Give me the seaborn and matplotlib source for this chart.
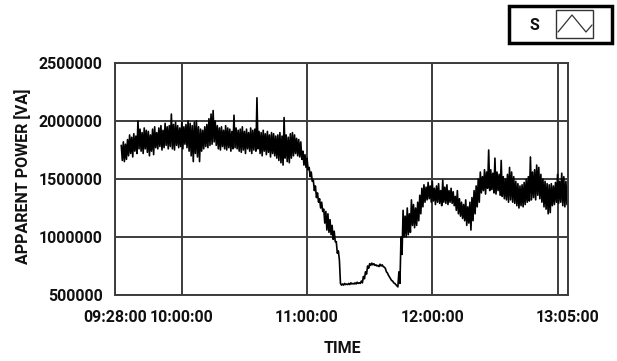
import numpy as np
import pandas as pd
import matplotlib
matplotlib.use("Agg")
import matplotlib.pyplot as plt
from matplotlib.patches import Rectangle
from matplotlib.lines import Line2D
import seaborn as sns

# Minutes after 09:28:00, one sample per minute
minutes = list(range(3, 217))

# Upper envelope of the apparent power per minute [kVA]
s_high = [
    1790, 1820, 1800, 1840, 1880, 1860, 1890, 1870, 2000, 1930,  # 3-12
    1900, 1940, 1920, 1910, 1880, 1930, 1950, 1900, 1940, 1960,  # 13-22
    1920, 1980, 1950, 1960, 2060, 1970, 1990, 1960, 1940, 1990,  # 23-32
    1950, 1970, 2000, 1980, 1960, 1990, 2000, 1950, 1930, 1920,  # 33-42
    1950, 1970, 2020, 2060, 2090, 2000, 1960, 1940, 1950, 1920,  # 43-52
    1960, 1940, 1930, 1910, 2050, 1940, 1920, 1930, 1950, 1910,  # 53-62
    1930, 1900, 1940, 1920, 1930, 2200, 1910, 1900, 1920, 1890,  # 63-72
    1910, 1880, 1900, 1890, 1870, 1880, 1900, 1870, 2030, 1880,  # 73-82
    1860, 1890, 1900, 1880, 1850, 1840, 1820, 1740, 1710, 1680,  # 83-92
    1600, 1560, 1490, 1440, 1380, 1330, 1300, 1240, 1220, 1200,  # 93-102
    1150, 1100, 1050, 960, 880, 600, 595, 600, 595, 600,         # 103-112
    605, 600, 605, 610, 605, 620, 660, 700, 750, 770,            # 113-122
    775, 770, 760, 755, 765, 760, 740, 700, 670, 640,            # 123-132
    620, 600, 580, 700, 1000, 1230, 1180, 1250, 1200, 1320,      # 133-142
    1280, 1250, 1300, 1360, 1420, 1450, 1430, 1470, 1440, 1480,  # 143-152
    1420, 1440, 1460, 1400, 1490, 1430, 1450, 1400, 1420, 1390,  # 153-162
    1350, 1400, 1330, 1300, 1280, 1320, 1260, 1300, 1340, 1400,  # 163-172
    1440, 1500, 1560, 1520, 1580, 1560, 1750, 1580, 1550, 1680,  # 173-182
    1560, 1540, 1660, 1520, 1500, 1540, 1600, 1560, 1520, 1480,  # 183-192
    1460, 1440, 1450, 1470, 1500, 1520, 1690, 1560, 1580, 1620,  # 193-202
    1600, 1540, 1500, 1480, 1460, 1450, 1460, 1440, 1470, 1540,  # 203-212
    1480, 1550, 1520, 1480,                                      # 213-216
]

# Lower envelope of the apparent power per minute [kVA]
s_low = [
    1660, 1650, 1670, 1700, 1720, 1690, 1740, 1720, 1760, 1740,  # 3-12
    1720, 1760, 1730, 1700, 1740, 1710, 1770, 1760, 1780, 1750,  # 13-22
    1770, 1790, 1760, 1780, 1760, 1750, 1790, 1770, 1780, 1760,  # 23-32
    1800, 1770, 1740, 1700, 1650, 1720, 1690, 1650, 1740, 1760,  # 33-42
    1780, 1770, 1790, 1800, 1820, 1790, 1760, 1750, 1780, 1760,  # 43-52
    1750, 1770, 1740, 1760, 1770, 1760, 1740, 1730, 1750, 1720,  # 53-62
    1760, 1740, 1720, 1750, 1740, 1760, 1720, 1700, 1740, 1710,  # 63-72
    1730, 1690, 1720, 1700, 1680, 1660, 1640, 1620, 1680, 1650,  # 73-82
    1640, 1680, 1700, 1720, 1700, 1690, 1670, 1620, 1600, 1580,  # 83-92
    1520, 1480, 1400, 1340, 1300, 1250, 1220, 1120, 1060, 1040,  # 93-102
    1020, 980, 960, 860, 800, 585, 585, 590, 590, 590,           # 103-112
    595, 595, 595, 600, 600, 605, 640, 680, 730, 755,            # 113-122
    760, 755, 750, 745, 750, 745, 730, 690, 655, 625,            # 123-132
    605, 590, 570, 600, 850, 1000, 1000, 1020, 1040, 1100,       # 133-142
    1080, 1100, 1140, 1200, 1260, 1300, 1320, 1330, 1300, 1310,  # 143-152
    1280, 1300, 1290, 1270, 1300, 1290, 1280, 1300, 1290, 1270,  # 153-162
    1230, 1200, 1180, 1160, 1140, 1100, 1120, 1060, 1140, 1200,  # 163-172
    1260, 1300, 1380, 1400, 1370, 1420, 1400, 1410, 1380, 1370,  # 173-182
    1400, 1360, 1350, 1330, 1320, 1300, 1320, 1300, 1290, 1270,  # 183-192
    1250, 1270, 1260, 1280, 1300, 1310, 1320, 1340, 1320, 1360,  # 193-202
    1330, 1300, 1260, 1240, 1200, 1210, 1270, 1280, 1300, 1290,  # 203-212
    1300, 1270, 1260, 1280,                                      # 213-216
]

tick_minutes = [0, 32, 92, 152, 212, 217]
tick_labels = ["09:28:00", "10:00:00", "11:00:00", "12:00:00", "", "13:05:00"]
y_ticks = [500000, 1000000, 1500000, 2000000, 2500000]

# Interleave the two envelopes so the trace zigzags inside the band
t = np.repeat(np.array(minutes, dtype=float), 2)
t[1::2] += 0.5
v = np.empty(t.size)
v[0::2] = np.array(s_high) * 1000.0
v[1::2] = np.array(s_low) * 1000.0
df = pd.DataFrame({"minute": t, "S": v})

sns.set_style("white")
FONT = ["Roboto", "DejaVu Sans"]
plt.rcParams["font.family"] = FONT
plt.rcParams["font.weight"] = "bold"

W, H = 617, 361
fig = plt.figure(figsize=(W / 100, H / 100), dpi=100)
ax = fig.add_axes([115 / W, 1 - 295 / H, (568 - 115) / W, (295 - 63) / H])

sns.lineplot(data=df, x="minute", y="S", estimator=None, sort=False,
             color="black", linewidth=1.2, ax=ax)

ax.set_xlim(0, 217)
ax.set_ylim(500000, 2500000)
ax.set_xticks(tick_minutes)
ax.set_xticklabels(tick_labels)
ax.set_yticks(y_ticks)
ax.set_yticklabels([str(y) for y in y_ticks])

grid_c = "#3c3c3c"
ax.grid(True, color=grid_c, linewidth=1.4)
ax.set_axisbelow(True)
for sp in ax.spines.values():
    sp.set_color(grid_c)
    sp.set_linewidth(1.4)

TS = 11.5
ax.tick_params(axis="both", direction="out", length=6, width=1.2,
               color=grid_c, pad=3, labelsize=TS, labelcolor="#111111")
ax.tick_params(axis="x", pad=5)
for lab in ax.get_xticklabels() + ax.get_yticklabels():
    lab.set_fontweight("bold")

ax.set_xlabel("TIME", fontsize=TS, fontweight="bold", color="#111111")
ax.set_ylabel("APPARENT POWER [VA]", fontsize=TS, fontweight="bold",
              color="#111111")
ax.xaxis.set_label_coords(0.501, -0.2)
ax.yaxis.set_label_coords(-0.185, 0.513)

# Plot legend panel in the top-right corner
def px(x, y):
    return x / W, 1 - y / H

x0, y0 = px(509, 43)
fig.patches.append(Rectangle((x0, y0), (612 - 509) / W, (43 - 6) / H,
                             transform=fig.transFigure, facecolor="white",
                             edgecolor="black", linewidth=2.5))
ix0, iy0 = px(556, 38)
fig.patches.append(Rectangle((ix0, iy0), (593 - 556) / W, (38 - 10) / H,
                             transform=fig.transFigure, facecolor="white",
                             edgecolor="#333333", linewidth=1.0))
icon = [(558, 32), (572, 15), (586, 32), (592, 25)]
fig.lines.append(Line2D([px(*p)[0] for p in icon], [px(*p)[1] for p in icon],
                        transform=fig.transFigure, color="#333333",
                        linewidth=0.9))
fig.text(*px(534, 25), "S", ha="center", va="center", fontsize=TS,
         fontweight="bold", color="#111111")

fig.savefig("out.png", dpi=100, facecolor="white")
